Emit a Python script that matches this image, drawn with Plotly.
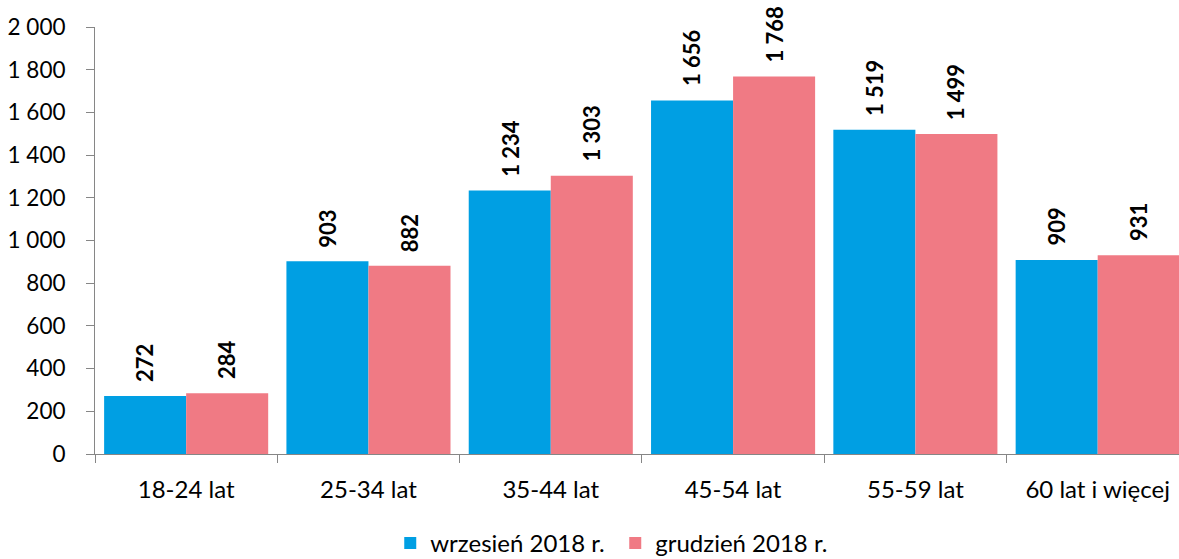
import plotly.graph_objects as go

# Age groups and counts for the two reporting months
categories = ["18-24 lat", "25-34 lat", "35-44 lat", "45-54 lat", "55-59 lat", "60 lat i więcej"]
wrzesien = [272, 903, 1234, 1656, 1519, 909]
grudzien = [284, 882, 1303, 1768, 1499, 931]
series_names = ["wrzesień 2018 r.", "grudzień 2018 r."]
y_ticks = [0, 200, 400, 600, 800, 1000, 1200, 1400, 1600, 1800, 2000]

BLUE = "#009FE3"
PINK = "#F07A84"
FONT = "Lato"
AXIS_GREY = "#868686"


def fmt(v):
    return f"{v:,}".replace(",", " ")


fig = go.Figure()
for name, vals, col in [(series_names[0], wrzesien, BLUE), (series_names[1], grudzien, PINK)]:
    fig.add_trace(go.Bar(
        x=categories, y=vals, name=name,
        marker=dict(color=col, line=dict(width=0)),
    ))

# Rotated value labels above each bar
for vals, shift in [(wrzesien, -41), (grudzien, 41)]:
    for cat, v in zip(categories, vals):
        fig.add_annotation(
            x=cat, y=v, xref="x", yref="y",
            text=fmt(v), showarrow=False, textangle=-90,
            xanchor="center", yanchor="bottom",
            xshift=shift, yshift=12,
            font=dict(family=FONT, size=22, color="#000000", weight="bold"),
        )

fig.update_layout(
    width=1179, height=559,
    margin=dict(l=95, r=0, t=27, b=105),
    paper_bgcolor="white", plot_bgcolor="white",
    barmode="group", bargap=0.1, bargroupgap=0,
    separators=", ",
    font=dict(family=FONT, size=24, color="#000000"),
    showlegend=True,
    legend=dict(
        orientation="h", xref="container", yref="container",
        x=0.331, y=0.028, xanchor="left", yanchor="middle",
        font=dict(family=FONT, size=24, color="#000000"),
        itemwidth=30, traceorder="normal",
        entrywidth=180, entrywidthmode="pixels",
    ),
)
fig.update_xaxes(
    range=[-0.5, 5.446],
    showline=True, linecolor=AXIS_GREY, linewidth=1,
    ticks="outside", tickson="boundaries", ticklen=8, tickcolor=AXIS_GREY,
    showgrid=False, ticklabelstandoff=14,
    tickfont=dict(family=FONT, size=24),
)
fig.update_yaxes(
    range=[0, 2000], tickvals=y_ticks, ticktext=[fmt(t) for t in y_ticks],
    showline=True, linecolor=AXIS_GREY, linewidth=1,
    ticks="outside", ticklen=8, tickcolor=AXIS_GREY,
    showgrid=False, zeroline=False, ticklabelstandoff=16,
    tickfont=dict(family=FONT, size=22.5),
)

fig.write_html("out.html")
